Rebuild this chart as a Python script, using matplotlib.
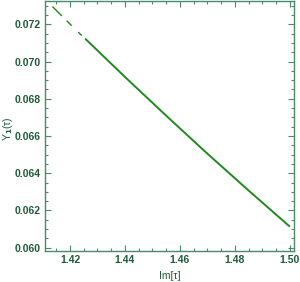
"""Y_1(tau) vs Im[tau] line plot, Mathematica-style frame."""

import matplotlib
import matplotlib.pyplot as plt
from matplotlib.ticker import MultipleLocator

matplotlib.use("Agg")

# curve samples
IM_TAU = [1.4255, 1.4400, 1.4550, 1.4700, 1.4850, 1.5000]
Y1 = [0.07123, 0.06917, 0.06709, 0.06505, 0.06307, 0.06113]

# sparse head of the curve (drawn as separate short pieces)
HEAD_SEGMENTS = [
    ([1.4136, 1.4170], [0.07295, 0.07245]),
    ([1.4188, 1.4206], [0.07219, 0.07192]),
    ([1.4230, 1.4243], [0.07158, 0.07139]),
]

X_TICKS = [1.42, 1.44, 1.46, 1.48, 1.50]
Y_TICKS = [0.060, 0.062, 0.064, 0.066, 0.068, 0.070, 0.072]

LINE_COLOR = "#1e8a1e"
FRAME_COLOR = "#4a8a6a"
TEXT_COLOR = "#1e5a3c"


def main() -> None:
    plt.rcParams["font.family"] = ["Liberation Sans", "DejaVu Sans"]
    plt.rcParams["font.weight"] = "bold"

    fig = plt.figure(figsize=(3.0, 2.82), dpi=100)
    ax = fig.add_axes([45 / 300, 1 - 250.7 / 282, 249 / 300, 249.7 / 282])

    ax.plot(IM_TAU, Y1, color=LINE_COLOR, lw=1.4, solid_capstyle="butt")
    for xs, ys in HEAD_SEGMENTS:
        ax.plot(xs, ys, color=LINE_COLOR, lw=1.0, solid_capstyle="butt")

    ax.set_xlim(1.4109, 1.5015)
    ax.set_ylim(0.05984, 0.07325)
    ax.set_xticks(X_TICKS)
    ax.set_xticklabels([f"{v:.2f}" for v in X_TICKS])
    ax.set_yticks(Y_TICKS)
    ax.set_yticklabels([f"{v:.3f}" for v in Y_TICKS])
    ax.xaxis.set_minor_locator(MultipleLocator(0.005))
    ax.yaxis.set_minor_locator(MultipleLocator(0.0005))

    for sp in ax.spines.values():
        sp.set_color(FRAME_COLOR)
        sp.set_linewidth(1.0)
    ax.tick_params(which="both", direction="in", top=True, right=True,
                   color=FRAME_COLOR, width=0.8)
    ax.tick_params(which="major", length=4, labelsize=7.5, labelcolor=TEXT_COLOR, pad=3)
    ax.tick_params(which="minor", length=2)

    ax.set_xlabel("Im[τ]", fontsize=7.5, color=TEXT_COLOR)
    ax.set_ylabel("Y$_1$(τ)", fontsize=7.5, color=TEXT_COLOR)
    ax.xaxis.set_label_coords(0.5, -0.08)
    ax.yaxis.set_label_coords(-0.122, 0.49)

    fig.savefig("out.png", dpi=100)
    plt.close(fig)


if __name__ == "__main__":
    main()
